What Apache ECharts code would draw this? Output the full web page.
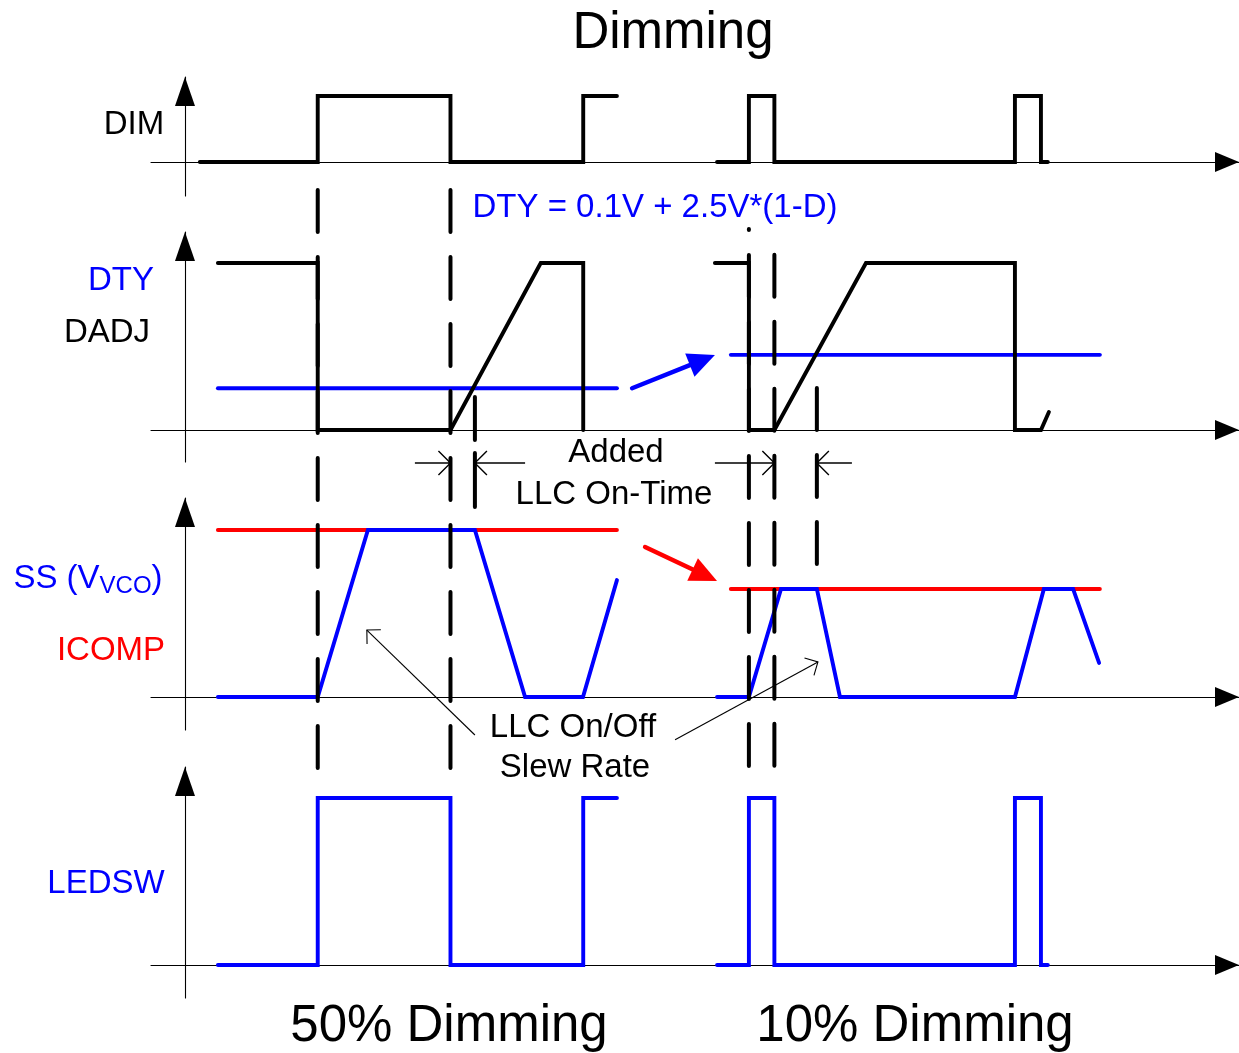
<!DOCTYPE html>
<html><head><meta charset="utf-8">
<script src="https://cdn.jsdelivr.net/npm/echarts@6/dist/echarts.min.js"></script>
<style>html,body{margin:0;padding:0;background:#fff}#c{width:1239px;height:1053px}</style>
</head><body><div id="c"></div>
<script>
// Time unit: one dimming period = 100. Levels normalised per row.
const xRange = [-12.8, 397];
const rowRanges = [[-0.515, 1.288], [-0.192, 1.186], [-0.198, 1.192], [-0.198, 1.186]];

const dimSeg1   = [[5.6,0],[50,0],[50,1],[100,1],[100,0],[150,0],[150,1],[162.7,1]];
const dimSeg2   = [[200.4,0],[212.4,0],[212.4,1],[222,1],[222,0],[312.6,0],[312.6,1],[322.4,1],[322.4,0],[325,0]];
const dadjSeg1  = [[12.4,1],[50,1],[50,0],[100,0],[134,1],[150,1],[150,0]];
const dadjSeg2  = [[199.6,1],[212.4,1],[212.4,0],[222,0],[256.5,1],[312.6,1],[312.6,0],[322.4,0],[325.4,0.108]];
const dtySeg1   = [[12.4,0.25],[162.7,0.25]];
const dtySeg2   = [[205.6,0.45],[344.6,0.45]];
const ssSeg1    = [[12.4,0],[50,0],[68.9,1],[109.2,1],[128.1,0],[149.9,0],[162.7,0.70]];
const ssSeg2    = [[200.4,0],[212.4,0],[224.5,0.647],[238,0.647],[246.7,0],[312.6,0],[323.5,0.647],[334.5,0.647],[344.3,0.204]];
const icompSeg1 = [[12.4,1],[162.7,1]];
const icompSeg2 = [[205.6,0.647],[344.6,0.647]];
const ledswSeg1 = [[12.4,0],[50,0],[50,1],[100,1],[100,0],[150,0],[150,1],[162.7,1]];
const ledswSeg2 = [[200.4,0],[212.4,0],[212.4,1],[222,1],[222,0],[312.6,0],[312.6,1],[322.4,1],[322.4,0],[325,0]];

// guide lines: time, start [grid, level], end [grid, level]
const dashedGuides = [
  {t: 50,    from: [0, -0.424], to: [3, 1.18], off: 0},
  {t: 100,   from: [0, -0.424], to: [3, 1.18], off: 0},
  {t: 212.4, from: [1, 1.204],  to: [3, 1.18], off: 41},
  {t: 222,   from: [1, 1.049],  to: [3, 1.18], off: 0},
  {t: 238,   from: [1, 0.251],  to: [1, -0.82], off: 0}
];
const solidGuides = [
  {t: 109.2, from: [1, 0.198], to: [1, -0.06]},
  {t: 109.2, from: [1, -0.138], to: [1, -0.461]}
];
// dimension arrows (grid 1): [tip time, tail time]
const dimLevel = -0.198;
const dimArrows = [[100, 86.6], [109.2, 128.1], [222, 199.6], [238, 251.2]];
// slew-rate pointers (grid 2): tail -> tip
const slewArrows = [[[109.2, -0.228], [68.5, 0.401]], [[184.6, -0.257], [238.4, 0.21]]];
// transition arrows
const dtyShift = {grid: 1, from: [168.4, 0.25], to: [199.6, 0.449], color: '#0000ff'};
const icompShift = {grid: 2, from: [173.3, 0.898], to: [200.4, 0.695], color: '#ff0000'};

const FONT = 'Liberation Sans, Arial, Helvetica, sans-serif';
const gridBoxes = [{top: 77, height: 119}, {top: 232, height: 230}, {top: 498, height: 232}, {top: 767, height: 231}];

const chart = echarts.init(document.getElementById('c'), null, {renderer: 'canvas'});
const grids = gridBoxes.map(b => ({left: 151, right: 0, top: b.top, height: b.height, containLabel: false}));
const xAxes = gridBoxes.map((b, i) => ({
  type: 'value', gridIndex: i, min: xRange[0], max: xRange[1],
  axisLabel: {show: false}, axisTick: {show: false}, splitLine: {show: false},
  axisLine: {show: true, onZero: true, symbol: ['none', 'triangle'], symbolSize: [20, 24], symbolOffset: [0, -12],
    lineStyle: {color: '#000', width: 1.1}}
}));
const yAxes = rowRanges.map((r, i) => ({
  type: 'value', gridIndex: i, min: r[0], max: r[1],
  axisLabel: {show: false}, axisTick: {show: false}, splitLine: {show: false},
  axisLine: {show: true, onZero: true, symbol: ['none', 'triangle'], symbolSize: [20, 29], symbolOffset: [0, -14.5],
    lineStyle: {color: '#000', width: 1.1}}
}));
function seg(data, gi, color) {
  return {type: 'line', xAxisIndex: gi, yAxisIndex: gi, data: data, symbol: 'none', showSymbol: false,
    lineStyle: {color: color, width: 3.9, cap: 'round', join: 'miter'}, silent: true, clip: false, z: 3};
}
const series = [
  seg(dimSeg1, 0, '#000'), seg(dimSeg2, 0, '#000'),
  seg(dtySeg1, 1, '#0000ff'), seg(dtySeg2, 1, '#0000ff'),
  seg(dadjSeg1, 1, '#000'), seg(dadjSeg2, 1, '#000'),
  seg(icompSeg1, 2, '#ff0000'), seg(icompSeg2, 2, '#ff0000'),
  seg(ssSeg1, 2, '#0000ff'), seg(ssSeg2, 2, '#0000ff'),
  seg(ledswSeg1, 3, '#0000ff'), seg(ledswSeg2, 3, '#0000ff')
];
chart.setOption({animation: false, backgroundColor: '#fff', grid: grids, xAxis: xAxes, yAxis: yAxes, series: series});

const P = (g, p) => chart.convertToPixel({gridIndex: g}, p);
const els = [];
function line(a, b, style) {
  els.push({type: 'line', z: 50, silent: true, shape: {x1: a[0], y1: a[1], x2: b[0], y2: b[1]}, style: style});
}
function chevron(tip, from, len, half) {
  const dx = from[0] - tip[0], dy = from[1] - tip[1], L = Math.hypot(dx, dy), ux = dx / L, uy = dy / L;
  const c = Math.cos(half), s = Math.sin(half);
  return [[tip[0] + len * (ux * c - uy * s), tip[1] + len * (ux * s + uy * c)], tip,
          [tip[0] + len * (ux * c + uy * s), tip[1] + len * (-ux * s + uy * c)]];
}
dashedGuides.forEach(d => {
  line(P(d.from[0], [d.t, d.from[1]]), P(d.to[0], [d.t, d.to[1]]),
    {stroke: '#000', lineWidth: 4, lineCap: 'round', lineDash: [42, 25], lineDashOffset: d.off});
});
solidGuides.forEach(d => {
  line(P(d.from[0], [d.t, d.from[1]]), P(d.to[0], [d.t, d.to[1]]), {stroke: '#000', lineWidth: 4, lineCap: 'round'});
});
dimArrows.forEach(a => {
  const tip = P(1, [a[0], dimLevel]), tail = P(1, [a[1], dimLevel]);
  line(tail, tip, {stroke: '#000', lineWidth: 1.4});
  els.push({type: 'polyline', z: 50, silent: true, shape: {points: chevron(tip, tail, 17, Math.PI / 4)}, style: {stroke: '#000', lineWidth: 1.4, fill: null}});
});
slewArrows.forEach(a => {
  const tail = P(2, a[0]), tip = P(2, a[1]);
  line(tail, tip, {stroke: '#000', lineWidth: 1.1});
  els.push({type: 'polyline', z: 50, silent: true, shape: {points: chevron(tip, tail, 14, Math.PI / 4)}, style: {stroke: '#000', lineWidth: 1.1, fill: null}});
});
[dtyShift, icompShift].forEach(a => {
  const tail = P(a.grid, a.from), tip = P(a.grid, a.to);
  const dx = tail[0] - tip[0], dy = tail[1] - tip[1], L = Math.hypot(dx, dy), ux = dx / L, uy = dy / L;
  const hl = 27, hw = 12.5;
  const base = [tip[0] + ux * hl, tip[1] + uy * hl];
  line(tail, [tip[0] + ux * (hl - 2), tip[1] + uy * (hl - 2)], {stroke: a.color, lineWidth: 4.5, lineCap: 'round'});
  els.push({type: 'polygon', z: 50, silent: true, shape: {points: [tip, [base[0] - uy * hw, base[1] + ux * hw], [base[0] + uy * hw, base[1] - ux * hw]]}, style: {fill: a.color}});
});
function text(str, x, y, size, color) {
  els.push({type: 'text', z: 60, silent: true, x: x, y: y,
    style: {text: str, font: size + 'px ' + FONT, fill: color, align: 'center', verticalAlign: 'middle', textAlign: 'center', textVerticalAlign: 'middle'}});
}
text('Dimming', 673, 34, 51, '#000');
text('DIM', 134, 125, 33, '#000');
text('DTY', 121, 281, 33, '#0000ff');
text('DADJ', 107, 333, 33, '#000');
text('ICOMP', 111, 651, 33, '#ff0000');
text('LEDSW', 106, 884, 33, '#0000ff');
text('DTY = 0.1V + 2.5V*(1-D)', 655, 208, 33, '#0000ff');
text('Added', 616, 453, 33, '#000');
text('LLC On-Time', 614, 495, 33, '#000');
text('LLC On/Off', 573, 728, 33, '#000');
text('Slew Rate', 575, 768, 33, '#000');
text('50% Dimming', 449, 1027, 51, '#000');
text('10% Dimming', 915, 1027, 51, '#000');
els.push({type: 'text', z: 60, silent: true, x: 88, y: 579,
  style: {text: '{a|SS (V}{b|VCO}{a|)}', align: 'center', verticalAlign: 'middle', textAlign: 'center', textVerticalAlign: 'middle',
    rich: {a: {font: '33px ' + FONT, fill: '#0000ff', color: '#0000ff', lineHeight: 40},
           b: {font: '24px ' + FONT, fill: '#0000ff', color: '#0000ff', lineHeight: 24, padding: [15, 0, 0, 0]}}}});
chart.setOption({graphic: {elements: els}});
</script></body></html>
